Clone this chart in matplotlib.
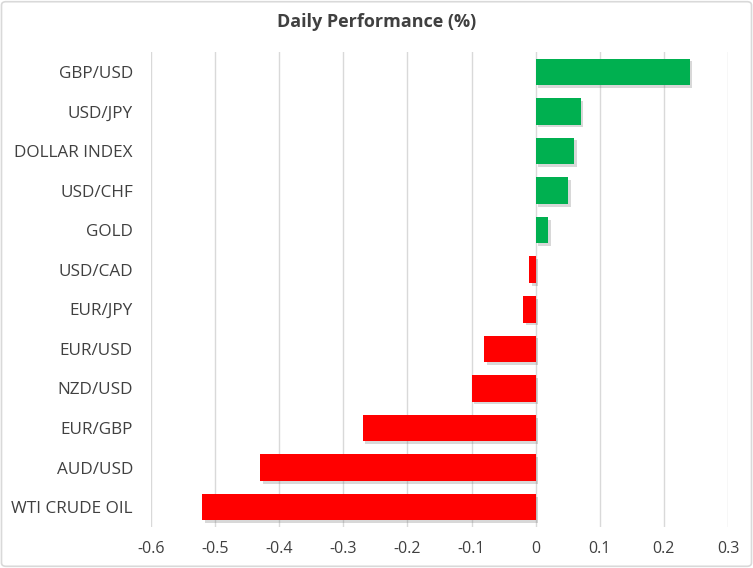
import matplotlib
matplotlib.use("Agg")
import matplotlib.pyplot as plt
import matplotlib.patches as patches
import matplotlib.patheffects as pe

# data, top to bottom as in the chart
names = ["GBP/USD", "USD/JPY", "DOLLAR INDEX", "USD/CHF", "GOLD", "USD/CAD",
         "EUR/JPY", "EUR/USD", "NZD/USD", "EUR/GBP", "AUD/USD", "WTI CRUDE OIL"]
values = [0.24, 0.07, 0.06, 0.05, 0.02, -0.01, -0.02, -0.08, -0.10, -0.27, -0.43, -0.52]
xticks = [-0.6, -0.5, -0.4, -0.3, -0.2, -0.1, 0, 0.1, 0.2, 0.3]
xlabels = ["-0.6", "-0.5", "-0.4", "-0.3", "-0.2", "-0.1", "0", "0.1", "0.2", "0.3"]

GREEN = "#00B050"
RED = "#FF0000"
TXT = "#404040"

plt.rcParams["font.family"] = ["Open Sans", "DejaVu Sans"]

fig = plt.figure(figsize=(7.53, 5.68), dpi=100)
ax = fig.add_axes([151/753, 1-527/568, (728-151)/753, (527-52)/568])

ypos = list(range(len(names)))[::-1]
colors = [GREEN if v >= 0 else RED for v in values]
bars = ax.barh(ypos, values, height=0.67, color=colors, zorder=3)
for b in bars:
    b.set_path_effects([pe.SimplePatchShadow(offset=(2, -2), shadow_rgbFace="#7f7f7f", alpha=0.3), pe.Normal()])

ax.set_xlim(-0.6, 0.3)
ax.set_ylim(-0.5, len(names)-0.5)
ax.set_xticks(xticks)
ax.set_xticklabels(xlabels)
ax.set_yticks(ypos)
ax.set_yticklabels(names)
ax.tick_params(axis="both", length=0, colors=TXT)
ax.tick_params(axis="y", pad=13, labelsize=12.3)
ax.tick_params(axis="x", pad=10, labelsize=11.5)
ax.grid(axis="x", color="#d9d9d9", linewidth=1, zorder=0)
ax.set_axisbelow(True)
for s in ax.spines.values():
    s.set_visible(False)

fig.text(0.5, 1-22/568, "Daily Performance (%)", ha="center", va="center",
         fontsize=13, fontweight="bold", color=TXT)

# outer frame
fig.patches.append(patches.FancyBboxPatch((0.002, 0.003), 0.996, 0.994,
                   boxstyle="round,pad=0,rounding_size=0.006", transform=fig.transFigure,
                   fill=False, edgecolor="#d9d9d9", linewidth=1.2))

fig.savefig("out.png", dpi=100)
